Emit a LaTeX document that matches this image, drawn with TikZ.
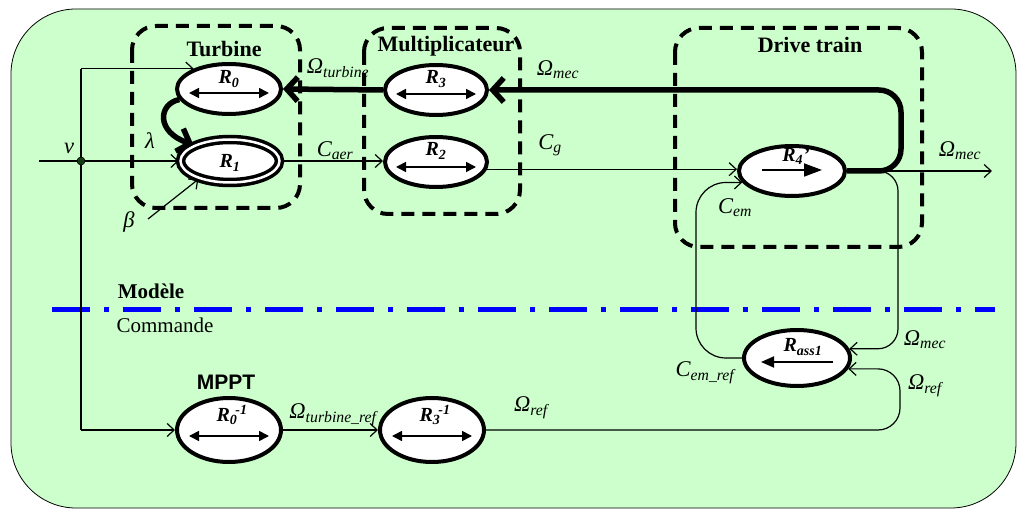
\documentclass[tikz,border=0pt]{standalone}
\usepackage{fontspec}
\setmainfont{Liberation Serif}
\newfontfamily\arialf{Liberation Sans}
\usetikzlibrary{shapes.geometric,arrows.meta,calc}
\definecolor{bggreen}{RGB}{204,255,204}
\definecolor{dotgreen}{RGB}{20,60,20}
\begin{document}
\begin{tikzpicture}[x=1pt,y=1pt,
  ell/.style={ellipse, draw, fill=white, line width=4, inner sep=0, minimum width=104, minimum height=50},
  thinln/.style={line width=1.2},
  arr/.style={line width=1.2, -{Straight Barb[length=7,width=13]}},
  thk/.style={line width=5.5, -{Straight Barb[length=11,width=24]}},
  grp/.style={line width=4, dash pattern=on 13 off 8, rounded corners=24},
  lab/.style={font=\fontsize{22.5}{24}\selectfont\itshape, inner sep=0},
  ttl/.style={font=\fontsize{22}{24}\selectfont\bfseries, inner sep=0},
  rl/.style={font=\fontsize{20}{22}\selectfont\bfseries\itshape, inner sep=0},
  inarr/.style={line width=1.6, {Triangle[length=10,width=10]}-{Triangle[length=10,width=10]}},
  sep/.style={blue, line width=5, dash pattern=on 38 off 14 on 5 off 14}
]
\useasboundingbox (0,0) rectangle (1018,-510);
% background
\fill[bggreen, draw=black, line width=0.8, rounded corners=65] (11,-9) rectangle (1016,-508);

% separator
\coordinate (sepL) at (52,-310);
\coordinate (sepR) at (995,-310);
\draw[sep] (sepL) -- (sepR);
\node[font=\fontsize{21}{24}\selectfont\bfseries, inner sep=0] (modele) at (151,-291) {Modèle};
\node[font=\fontsize{21}{24}\selectfont, inner sep=0] (commande) at (165,-325) {Commande};

% ellipses
\node[ell, minimum width=104, minimum height=50] (R0) at (229,-89) {};
\node[ellipse, draw, fill=white, line width=3.5, double=white, double distance=2.5, inner sep=0, minimum width=99, minimum height=43] (R1) at (230,-161) {};
\node[ell, minimum width=102, minimum height=50] (R3) at (436,-90) {};
\node[ell, minimum width=102, minimum height=50] (R2) at (436,-162) {};
\node[ell, minimum width=106, minimum height=50] (R4) at (792,-171) {};
\node[ell, minimum width=106, minimum height=56] (Ras) at (797,-358) {};
\node[ell, minimum width=104, minimum height=64] (R0i) at (229,-430) {};
\node[ell, minimum width=104, minimum height=64] (R3i) at (432,-430) {};

% inner arrows and labels
\draw[inarr] ($(R0)+(-40,-4)$) -- ($(R0)+(40,-4)$);
\node[rl] (R0l) at ($(R0)+(0,10)$) {R\textsubscript{0}};
\node[rl] (R1l) at ($(R1)+(0,-2)$) {R\textsubscript{1}};
\draw[inarr] ($(R3)+(-40,-4)$) -- ($(R3)+(40,-4)$);
\node[rl] (R3l) at ($(R3)+(0,11)$) {R\textsubscript{3}};
\draw[inarr] ($(R2)+(-40,-5)$) -- ($(R2)+(40,-5)$);
\node[rl] (R2l) at ($(R2)+(0,11)$) {R\textsubscript{2}};
\node[rl] (R4l) at ($(R4)+(4,15)$) {R\textsubscript{4}’};
\draw[line width=1.8, -{Triangle[length=18,width=13]}] ($(R4)+(-30,1)$) -- ($(R4)+(30,1)$);
\node[rl] (Rasl) at ($(Ras)+(6,11)$) {R\textsubscript{ass1}};
\draw[line width=1.8, -{Triangle[length=13,width=11]}] ($(Ras)+(36,-4)$) -- ($(Ras)+(-36,-4)$);
\draw[inarr] ($(R0i)+(-40,-6)$) -- ($(R0i)+(40,-6)$);
\node[rl] (R0il) at ($(R0i)+(3,15)$) {R\textsubscript{0}\kern-0.1em\textsuperscript{-1}};
\draw[inarr] ($(R3i)+(-40,-6)$) -- ($(R3i)+(40,-6)$);
\node[rl] (R3il) at ($(R3i)+(3,15)$) {R\textsubscript{3}\kern-0.1em\textsuperscript{-1}};

% group boxes
\draw[grp] (132,-26) rectangle (300,-208);
\draw[grp] (364,-28) rectangle (520,-214);
\draw[grp] (675,-28) rectangle (922,-247);
\node[ttl] (tTurb) at (224,-49) {Turbine};
\node[ttl] (tMult) at (446,-46) {Multiplicateur};
\node[ttl] (tDrive) at (810,-45) {Drive train};
\node[font=\arialf\fontsize{21}{24}\selectfont\bfseries, inner sep=0] (mppt) at (226,-382) {MPPT};

% input v
\coordinate (vst) at (39,-161);
\coordinate (J) at (81,-161);
\draw[arr] (vst) -- (R1.west);
\draw[thinln] (R0.150 -| J) -- (R0i.west -| J);
\draw[arr] (R0.150 -| J) -- (R0.150);
\draw[arr] (R0i.west -| J) -- (R0i.west);
\fill[dotgreen, draw=black, line width=0.6] (J) circle (4);
\node[lab] (vlab) at (69,-148) {v};

% lambda and beta
\coordinate (lc1) at (158,-104);
\coordinate (lc2) at (156,-132);
\draw[thk] (R0.192) .. controls (lc1) and (lc2) .. (R1.156);
\node[lab] (lam) at (150,-141) {λ};
\coordinate (bst) at (148,-219);
\draw[arr] (bst) -- (R1.210);
\node[lab] (bet) at (129,-222) {β};

% C_aer, C_g
\draw[arr] (R1.east) -- (R1.east -| R2.west);
\node[lab] (caer) at (335,-151) {C\textsubscript{aer}};
\draw[arr] (R2.-8) -- (R2.-8 -| R4.west);
\node[lab] (cg) at (550,-145) {C\textsubscript{g}};

% thick feedback
\coordinate (fb) at (901,-171);
\draw[thk, rounded corners=22] (R4.east) -- (fb) -- (R3.east -| fb) -- (R3.east);
\draw[thk] (R3.west) -- (R0.east);
\node[lab] (omt) at (338,-68) {Ω\textsubscript{turbine}};
\node[lab] (omm) at (558,-70) {Ω\textsubscript{mec}};

% output Omega_mec
\coordinate (omo) at (992,-171);
\draw[arr] (R4.east) -- (omo);
\node[lab] (omm2) at (960,-151) {Ω\textsubscript{mec}};

% Omega_mec to Rass1
\coordinate (jn) at (876,-171);
\coordinate (vm) at (898,-171);
\draw[arr, rounded corners=20] (jn) -- (vm) |- (Ras.10);
\node[lab] (omm3) at (925,-340) {Ω\textsubscript{mec}};

% Omega_ref
\coordinate (cr) at (900,-400);
\draw[arr, rounded corners=22] (R3i.east) -| (Ras.-12 -| cr) -- (Ras.-12);
\node[lab] (omr1) at (531,-408) {Ω\textsubscript{ref}};
\node[lab] (omr2) at (925,-386) {Ω\textsubscript{ref}};

% C_em
\coordinate (cl) at (696,-250);
\draw[arr, rounded corners=30] (Ras.west) -| (R4.-167 -| cl) -- (R4.-167);
\node[lab] (cem) at (735,-208) {C\textsubscript{em}};
\node[lab] (cemr) at (705,-373) {C\textsubscript{em\_ref}};

% MPPT chain
\draw[arr] (R0i.east) -- (R3i.west);
\node[lab] (omtr) at (333,-415) {Ω\textsubscript{turbine\_ref}};
\end{tikzpicture}
\end{document}
